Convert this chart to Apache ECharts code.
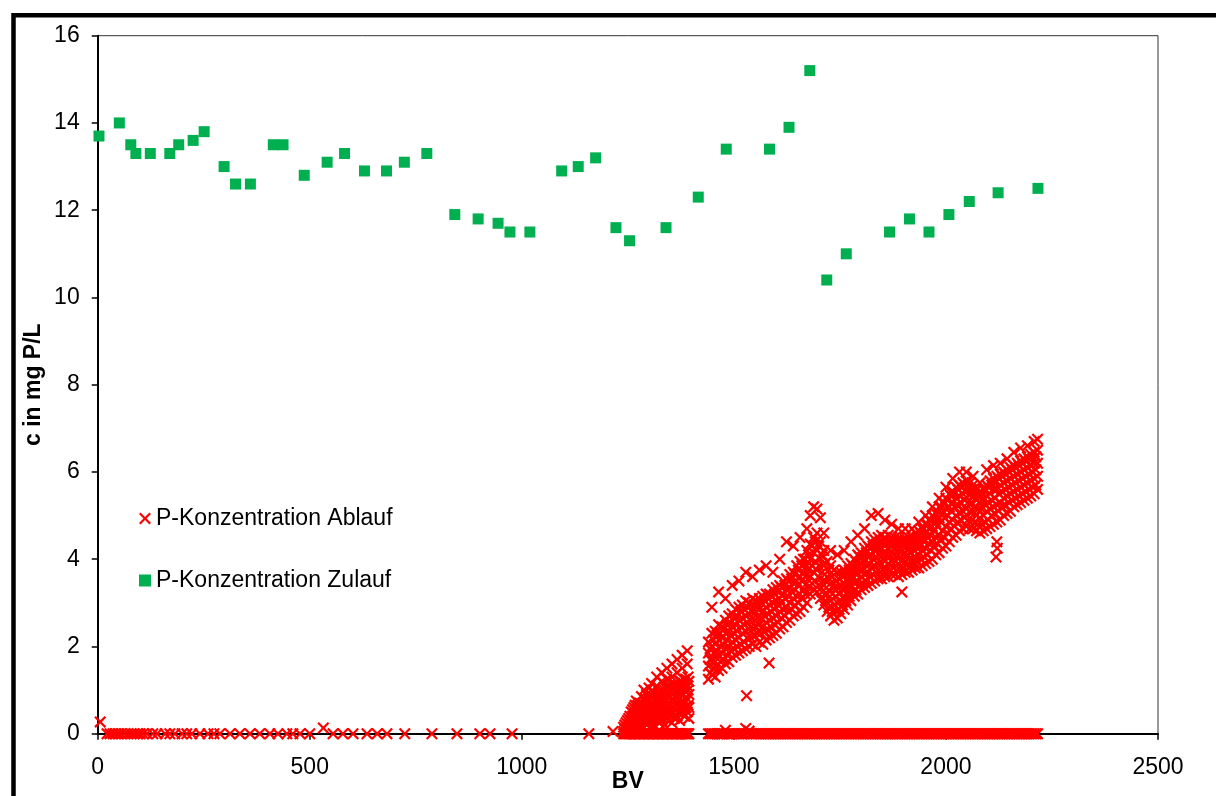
<!DOCTYPE html>
<html>
<head>
<meta charset="utf-8">
<script src="https://cdn.jsdelivr.net/npm/echarts@6/dist/echarts.min.js"></script>
<style>
html,body{margin:0;padding:0;background:#fff;}
#chart{width:1216px;height:796px;}
</style>
</head>
<body>
<div id="chart"></div>
<script>
// ---- Data ----
const xTicks = [0, 500, 1000, 1500, 2000, 2500];
const yTicks = [0, 2, 4, 6, 8, 10, 12, 14, 16];
const seriesNames = ['P-Konzentration Ablauf', 'P-Konzentration Zulauf'];

// Zulauf (inflow) concentration
const zulaufBV = [3,51,78,90,124,170,191,225,251,298,325,360,414,437,487,541,582,629,681,723,776,842,897,944,972,1019,1094,1133,1174,1222,1254,1340,1416,1482,1584,1630,1679,1719,1765,1867,1914,1960,2007,2055,2123,2217];
const zulaufC  = [13.7,14.0,13.5,13.3,13.3,13.3,13.5,13.6,13.8,13.0,12.6,12.6,13.5,13.5,12.8,13.1,13.3,12.9,12.9,13.1,13.3,11.9,11.8,11.7,11.5,11.5,12.9,13.0,13.2,11.6,11.3,11.6,12.3,13.4,13.4,13.9,15.2,10.4,11.0,11.5,11.8,11.5,11.9,12.2,12.4,12.5];

// Ablauf (outflow) concentration, sparse early part
const ablaufEarlyBV = [6,22,29,36,41,48,55,64,71,79,86,93,100,107,116,130,140,159,170,182,199,210,222,241,260,274,288,312,335,359,382,406,425,446,460,477,500,532,555,578,602,635,659,682,724,788,847,901,925,977,1158,1215];
const ablaufEarlyC  = [0.27,0,0,0,0,0,0,0,0,0,0,0,0,0,0,0,0,0,0,0,0,0,0,0,0,0,0,0,0,0,0,0,0,0,0,0,0,0.13,0,0,0,0,0,0,0,0,0,0,0,0,0,0.05];

// Ablauf, first breakthrough cloud: each row = [BV, values at that BV...]
const ablaufCloud1 = [
 [1240,0,0.05,0.15],[1246,0,0.1,0.25],[1252,0,0.08,0.2,0.35],[1258,0,0.12,0.3,0.5],
 [1264,0,0.1,0.25,0.45,0.6],[1270,0,0.15,0.35,0.55,0.75],[1276,0,0.1,0.3,0.5,0.7],
 [1282,0,0.2,0.4,0.6,0.85],[1288,0,0.15,0.35,0.6,0.8,1.0],[1294,0,0.2,0.45,0.7,0.9],
 [1300,0,0.25,0.5,0.75,1.05],[1306,0,0.15,0.4,0.65,0.85,1.15],[1312,0,0.2,0.45,0.7,0.95],
 [1318,0,0.3,0.55,0.8,1.1,1.3],[1324,0,0.25,0.5,0.75,0.95],[1330,0,0.3,0.55,0.85,1.2,1.4],
 [1336,0,0.2,0.5,0.8,1.0],[1342,0,0.35,0.6,0.9,1.25,1.5],[1348,0,0.3,0.55,0.85,1.1],
 [1354,0,0.25,0.6,0.9,1.3,1.6],[1360,0,0.35,0.65,0.95,1.15],[1366,0,0.4,0.7,1.0,1.4,1.7],
 [1372,0,0.3,0.65,0.95,1.2],[1378,0,0.45,0.75,1.05,1.5,1.8],[1384,0,0.4,0.7,1.0,1.25],
 [1390,0,0.5,0.8,1.1,1.6,1.9],[1394,0,0.35,0.6,0.9,1.2]
];
const ablaufCloud1b = [
 [1243,0,0.1,0.2],[1249,0,0.15,0.3],[1255,0,0.2,0.4],[1261,0,0.2,0.4,0.55],[1267,0,0.25,0.45,0.65],
 [1273,0,0.25,0.45,0.65],[1279,0,0.3,0.5,0.7],[1285,0,0.3,0.5,0.7],[1291,0,0.35,0.55,0.8],
 [1297,0,0.35,0.6,0.85],[1303,0,0.35,0.6,0.9],[1309,0,0.3,0.55,0.85],[1315,0,0.4,0.65,0.9],
 [1321,0,0.4,0.65,0.9],[1327,0,0.4,0.7,1.0],[1333,0,0.35,0.65,0.95],[1339,0,0.45,0.75,1.05],
 [1345,0,0.45,0.7,1.0],[1351,0,0.45,0.75,1.05],[1357,0,0.5,0.8,1.05],[1363,0,0.55,0.85,1.1],
 [1369,0,0.5,0.8,1.1],[1375,0,0.55,0.9,1.2],[1381,0,0.6,0.9,1.15],[1387,0,0.6,0.95,1.25],
 [1392,0,0.65,1.0,1.3]
];

// Ablauf, main cloud
const ablaufCloud2 = [
 [1440,0,1.25,1.55,1.85,2.1],[1448,0,1.35,1.7,2.0,2.3,2.9],[1456,0,1.3,1.65,2.05,2.35],
 [1464,0,1.45,1.8,2.15,2.5,3.25],[1472,0,1.5,1.85,2.2,2.45],[1480,0.08,1.6,1.95,2.3,2.6,3.1],
 [1488,0,1.65,2.0,2.35,2.7],[1496,0,1.75,2.1,2.45,2.75,3.4],[1504,0,1.8,2.15,2.5,2.85],
 [1512,0,1.85,2.2,2.6,2.9,3.5],[1520,0,1.9,2.3,2.65,2.95],[1528,0.12,1.95,2.35,2.7,3.05,3.7],
 [1536,0.06,2.0,2.4,2.75,3.0],[1544,0,2.05,2.4,2.8,3.1,3.6],[1552,0,2.0,2.45,2.8,3.05],
 [1560,0,2.1,2.5,2.85,3.1,3.75],[1568,0,2.05,2.45,2.8,3.15],[1576,0,2.15,2.55,2.9,3.2,3.85],
 [1584,0,2.2,2.6,2.95,3.2],[1592,0,2.25,2.65,3.0,3.3,3.7],[1600,0,2.3,2.7,3.05,3.35],
 [1608,0,2.4,2.8,3.1,3.4,4.0],[1616,0,2.45,2.85,3.2,3.5],[1624,0,2.55,2.9,3.3,3.55,4.4],
 [1632,0,2.6,3.0,3.35,3.65],[1640,0,2.7,3.1,3.45,3.7,4.3],[1648,0,2.75,3.15,3.5,3.85],
 [1656,0,2.8,3.2,3.6,3.95,4.5],[1664,0,2.9,3.3,3.7,4.0],[1672,0,3.0,3.45,3.85,4.2,4.7],
 [1680,0,3.2,3.6,4.0,4.35,5.0],[1688,0,3.3,3.7,4.15,4.5,5.2],[1696,0,3.25,3.75,4.2,4.6,5.15],
 [1704,0,3.1,3.55,4.0,4.4,4.95],[1712,0,2.95,3.4,3.85,4.2,4.6],[1720,0,2.8,3.2,3.6,3.95],
 [1728,0,2.7,3.05,3.45,3.85,4.2],[1736,0,2.6,2.95,3.35,3.75],[1744,0,2.65,3.0,3.35,3.7,4.1],
 [1752,0,2.75,3.05,3.4,3.7],[1760,0,2.85,3.15,3.45,3.75,4.2],[1768,0,2.95,3.25,3.55,3.85],
 [1776,0,3.05,3.35,3.65,3.9,4.4],[1784,0,3.15,3.45,3.75,4.0],[1792,0,3.2,3.5,3.85,4.1,4.55],
 [1800,0,3.3,3.6,3.9,4.15],[1808,0,3.35,3.65,3.95,4.25,4.7],[1816,0,3.4,3.7,4.05,4.3],
 [1824,0,3.45,3.8,4.1,4.4,5.0],[1832,0,3.5,3.85,4.2,4.45],[1840,0,3.55,3.9,4.25,4.5,5.05],
 [1848,0,3.55,3.9,4.25,4.55],[1856,0,3.6,3.95,4.3,4.5,4.9],[1864,0,3.6,3.9,4.25,4.55],
 [1872,0,3.65,3.95,4.3,4.5,4.8],[1880,0,3.65,3.95,4.25,4.5],[1888,0,3.6,3.9,4.2,4.45,4.7],
 [1896,0,3.65,3.95,4.2,4.45,3.25],[1904,0,3.7,3.95,4.25,4.45,4.7],[1912,0,3.7,4.0,4.25,4.5],
 [1920,0,3.75,4.0,4.3,4.5,4.7],[1928,0,3.8,4.05,4.35,4.6],[1936,0,3.8,4.1,4.4,4.65,4.85],
 [1944,0,3.85,4.2,4.5,4.7],[1952,0,3.9,4.25,4.6,4.8,5.0],[1960,0,3.95,4.35,4.7,4.9],
 [1968,0,4.0,4.4,4.75,5.0,5.2],[1976,0,4.1,4.5,4.85,5.05],[1984,0,4.15,4.55,4.95,5.2,5.4],
 [1992,0,4.25,4.65,5.05,5.3],[2000,0,4.3,4.75,5.15,5.4,5.65],[2008,0,4.4,4.85,5.2,5.5],
 [2016,0,4.5,4.9,5.3,5.55,5.85],[2024,0,4.55,5.0,5.4,5.65],[2032,0,4.65,5.05,5.45,5.7,6.0],
 [2040,0,4.7,5.1,5.5,5.75],[2048,0,4.75,5.15,5.55,5.8,6.0],[2056,0,4.7,5.1,5.5,5.75],
 [2064,0,4.7,5.1,5.45,5.7,5.9],[2072,0,4.65,5.0,5.35,5.6],[2080,0,4.6,4.95,5.3,5.55,5.75],
 [2088,0,4.65,5.0,5.35,5.6],[2096,0,4.7,5.1,5.45,5.7,6.05],[2104,0,4.75,5.15,5.5,5.8],
 [2112,0,4.8,5.2,5.6,5.85,6.15],[2120,0,4.85,5.25,5.6,5.9,4.4],[2128,0,4.9,5.3,5.7,5.95,6.2],
 [2136,0,5.0,5.4,5.75,6.0],[2144,0,5.05,5.45,5.8,6.05,6.3],[2152,0,5.1,5.5,5.85,6.1],
 [2160,0,5.2,5.55,5.9,6.15,6.45],[2168,0,5.25,5.6,5.95,6.2],[2176,0,5.3,5.65,6.0,6.25,6.55],
 [2184,0,5.35,5.7,6.05,6.3],[2192,0,5.4,5.75,6.1,6.35,6.6],[2200,0,5.45,5.8,6.15,6.4],
 [2208,0,5.5,5.85,6.2,6.45,6.7],[2216,0,5.6,5.9,6.2,6.5,6.75]
];
const ablaufCloud2b = [
 [1444,0,1.4,1.7,1.95],[1452,0,1.5,1.85,2.15],[1460,0,1.55,1.9,2.25],[1468,0,1.65,2.0,2.3],
 [1476,0,1.7,2.05,2.4],[1484,0,1.8,2.15,2.5],[1492,0,1.9,2.25,2.55],[1500,0,1.95,2.3,2.65],
 [1508,0,2.0,2.35,2.7],[1516,0,2.05,2.45,2.8],[1524,0,2.1,2.5,2.85],[1532,0,2.2,2.55,2.9],
 [1540,0,2.2,2.6,2.95],[1548,0,2.25,2.6,2.95],[1556,0,2.3,2.65,2.95],[1564,0,2.3,2.65,3.0],
 [1572,0,2.35,2.7,3.05],[1580,0,2.4,2.75,3.1],[1588,0,2.45,2.8,3.15],[1596,0,2.5,2.85,3.2],
 [1604,0,2.55,2.95,3.25],[1612,0,2.65,3.0,3.35],[1620,0,2.7,3.1,3.4],[1628,0,2.8,3.15,3.5],
 [1636,0,2.85,3.25,3.55],[1644,0,2.95,3.3,3.65],[1652,0,3.0,3.4,3.75],[1660,0,3.1,3.5,3.85],
 [1668,0,3.2,3.6,4.0],[1676,0,3.35,3.75,4.1],[1684,0,3.45,3.85,4.3],[1692,0,3.5,3.95,4.4],
 [1700,0,3.4,3.85,4.3],[1708,0,3.25,3.7,4.1],[1716,0,3.05,3.5,3.9],[1724,0,2.9,3.3,3.75],
 [1732,0,2.8,3.2,3.6],[1740,0,2.8,3.15,3.5],[1748,0,2.85,3.2,3.55],[1756,0,2.95,3.3,3.6],
 [1764,0,3.05,3.35,3.65],[1772,0,3.15,3.45,3.75],[1780,0,3.25,3.55,3.85],[1788,0,3.3,3.65,3.95],
 [1796,0,3.4,3.75,4.05],[1804,0,3.45,3.75,4.05],[1812,0,3.5,3.85,4.15],[1820,0,3.6,3.9,4.25],
 [1828,0,3.65,4.0,4.3],[1836,0,3.7,4.05,4.35],[1844,0,3.7,4.1,4.4],[1852,0,3.75,4.1,4.4],
 [1860,0,3.75,4.1,4.4],[1868,0,3.75,4.1,4.4],[1876,0,3.8,4.1,4.4],[1884,0,3.75,4.05,4.35],
 [1892,0,3.75,4.05,4.35],[1900,0,3.8,4.1,4.35],[1908,0,3.85,4.1,4.4],[1916,0,3.85,4.15,4.4],
 [1924,0,3.9,4.2,4.45],[1932,0,3.95,4.25,4.5],[1940,0,4.0,4.3,4.6],[1948,0,4.05,4.4,4.7],
 [1956,0,4.1,4.5,4.8],[1964,0,4.2,4.55,4.9],[1972,0,4.3,4.65,4.95],[1980,0,4.35,4.75,5.1],
 [1988,0,4.45,4.85,5.2],[1996,0,4.5,4.95,5.3],[2004,0,4.6,5.0,5.35],[2012,0,4.7,5.1,5.45],
 [2020,0,4.75,5.2,5.5],[2028,0,4.85,5.25,5.6],[2036,0,4.9,5.3,5.65],[2044,0,4.95,5.35,5.7],
 [2052,0,4.9,5.3,5.65],[2060,0,4.9,5.3,5.6],[2068,0,4.85,5.2,5.5],[2076,0,4.8,5.15,5.45],
 [2084,0,4.8,5.15,5.45],[2092,0,4.85,5.25,5.6],[2100,0,4.9,5.3,5.65],[2108,0,5.0,5.35,5.7],
 [2116,0,5.05,5.4,5.75],[2124,0,5.1,5.5,5.85],[2132,0,5.2,5.55,5.9],[2140,0,5.25,5.6,5.95],
 [2148,0,5.3,5.65,6.0],[2156,0,5.35,5.7,6.05],[2164,0,5.4,5.75,6.1],[2172,0,5.45,5.8,6.15],
 [2180,0,5.5,5.85,6.2],[2188,0,5.55,5.9,6.25],[2196,0,5.6,5.95,6.3],[2204,0,5.65,6.0,6.3],
 [2212,0,5.7,6.05,6.35]
];

// Ablauf isolated outliers
const ablaufOutlierBV = [1530,1583,2118,2121];
const ablaufOutlierC  = [0.87,1.62,4.05,4.25];

// ---- Build series data ----
const zulaufData = zulaufBV.map((bv, i) => [bv, zulaufC[i]]);
const ablaufData = [];
ablaufEarlyBV.forEach((bv, i) => ablaufData.push([bv, ablaufEarlyC[i]]));
[ablaufCloud1, ablaufCloud1b, ablaufCloud2, ablaufCloud2b].forEach(rows => rows.forEach(row => {
  for (let k = 1; k < row.length; k++) ablaufData.push([row[0], row[k]]);
}));
ablaufOutlierBV.forEach((bv, i) => ablaufData.push([bv, ablaufOutlierC[i]]));

const crossPath = 'path://M0,13L13,0L50,37L87,0L100,13L63,50L100,87L87,100L50,63L13,100L0,87L37,50Z';
const FONT = 'Arial, "Liberation Sans", sans-serif';
const plainNum = v => String(v);

const chart = echarts.init(document.getElementById('chart'), null, {renderer: 'canvas'});
chart.setOption({
  animation: false,
  backgroundColor: '#ffffff',
  textStyle: {fontFamily: FONT},
  graphic: [{
    type: 'rect', silent: true, z: 100,
    shape: {x: 13.5, y: 15.3, width: 1400, height: 1000},
    style: {fill: 'none', stroke: '#000', lineWidth: 4.5}
  }],
  grid: {left: 97.7, right: 58, top: 35.7, bottom: 62.3, containLabel: false, outerBoundsMode: 'none',
         show: true, borderColor: '#333', borderWidth: 1, backgroundColor: 'transparent'},
  legend: {
    orient: 'vertical', left: 139, top: 507, padding: 0,
    itemWidth: 12, itemHeight: 12, itemGap: 39,
    textStyle: {fontSize: 23, color: '#000', fontFamily: FONT, lineHeight: 23},
    data: [{name: seriesNames[0], icon: crossPath}, {name: seriesNames[1], icon: 'rect'}]
  },
  xAxis: {
    type: 'value', min: xTicks[0], max: xTicks[xTicks.length - 1], interval: 500,
    name: 'BV', nameLocation: 'middle', nameGap: 36, nameMoveOverlap: false,
    nameTextStyle: {fontSize: 23, fontWeight: 'bold', color: '#000', fontFamily: FONT},
    axisLine: {show: true, onZero: false, lineStyle: {color: '#000', width: 2}},
    axisTick: {show: true, length: 6, lineStyle: {color: '#000', width: 1.5}},
    axisLabel: {fontSize: 23, color: '#000', margin: 22, fontFamily: FONT, formatter: plainNum},
    splitLine: {show: false}
  },
  yAxis: {
    type: 'value', min: yTicks[0], max: yTicks[yTicks.length - 1], interval: 2,
    name: 'c in mg P/L', nameLocation: 'middle', nameGap: 53, nameMoveOverlap: false,
    nameTextStyle: {fontSize: 23, fontWeight: 'bold', color: '#000', fontFamily: FONT},
    axisLine: {show: true, onZero: false, lineStyle: {color: '#000', width: 2}},
    axisTick: {show: true, length: 6, lineStyle: {color: '#000', width: 1.5}},
    axisLabel: {fontSize: 23, color: '#000', margin: 18, fontFamily: FONT, formatter: plainNum},
    splitLine: {show: false}
  },
  series: [
    {
      name: seriesNames[0], type: 'scatter', data: ablaufData, clip: false,
      symbol: crossPath, symbolSize: 12,
      itemStyle: {color: '#ff0000', opacity: 1}, z: 3
    },
    {
      name: seriesNames[1], type: 'scatter', data: zulaufData, clip: false,
      symbol: 'rect', symbolSize: 11,
      itemStyle: {color: '#00b050', opacity: 1}, z: 4
    }
  ]
});
</script>
</body>
</html>
